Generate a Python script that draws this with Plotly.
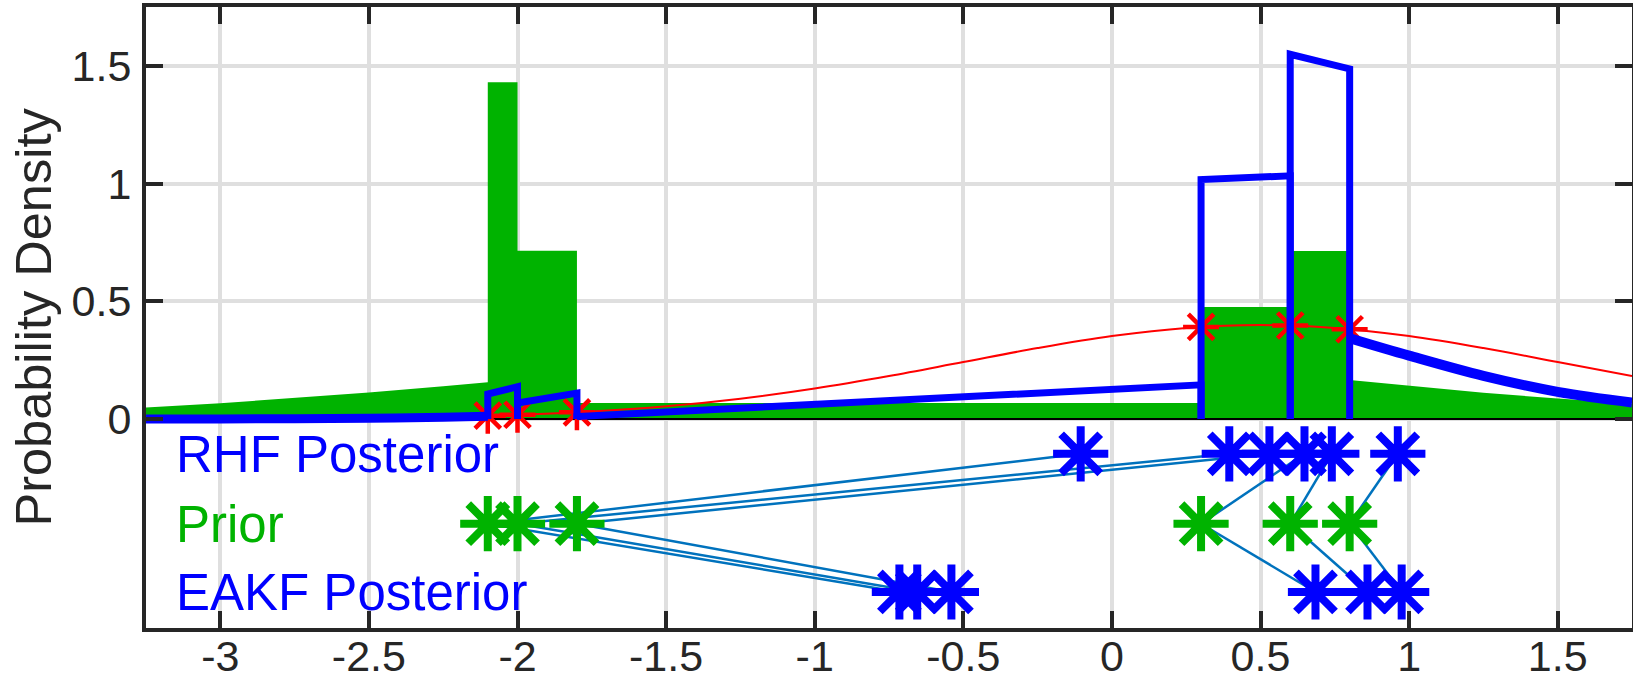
import plotly.graph_objects as go

# ---------------- data ----------------
x_ticks = [-3, -2.5, -2, -1.5, -1, -0.5, 0, 0.5, 1, 1.5]
x_tick_labels = ["-3", "-2.5", "-2", "-1.5", "-1", "-0.5", "0", "0.5", "1", "1.5"]
y_ticks = [0, 0.5, 1, 1.5]
y_tick_labels = ["0", "0.5", "1", "1.5"]

prior_members = [-2.1, -2.0, -1.8, 0.3, 0.6, 0.8]
rhf_members = [-0.105, 0.395, 0.53, 0.648, 0.74, 0.962]
eakf_members = [-0.715, -0.655, -0.54, 0.685, 0.86, 0.975]

row_labels = ["RHF Posterior", "Prior", "EAKF Posterior"]
row_levels = [-0.148, -0.445, -0.735]

# prior (rank histogram) density
prior_bin_heights = [1.43, 0.715, 0.068, 0.476, 0.714]
prior_left_tail_x = [-3.25, -3.0, -2.75, -2.5, -2.25, -2.1]
prior_left_tail_y = [0.049, 0.067, 0.088, 0.112, 0.139, 0.156]
prior_right_tail_x = [0.8, 1.0, 1.25, 1.5, 1.75]
prior_right_tail_y = [0.165, 0.14, 0.111, 0.087, 0.066]

# RHF posterior density (values at left / right end of each interior bin)
post_bin_left = [0.106, 0.068, 0.0105, 1.017, 1.549]
post_bin_right = [0.137, 0.110, 0.145, 1.033, 1.487]
post_left_tail_y = [0.0001, 0.0003, 0.001, 0.0027, 0.0069, 0.0116]
post_right_tail_y = [0.343, 0.269, 0.183, 0.115, 0.07]

# observation likelihood curve
lik_x = [-3.25, -3.0, -2.75, -2.5, -2.25, -2.0, -1.75, -1.5, -1.25, -1.0, -0.75,
         -0.5, -0.25, 0.0, 0.25, 0.5, 0.75, 1.0, 1.25, 1.5, 1.75]
lik_y = [0.0004, 0.0009, 0.0020, 0.0044, 0.0091, 0.0175, 0.0317, 0.0540, 0.0863,
         0.1295, 0.1826, 0.2420, 0.3011, 0.3521, 0.3867, 0.3989, 0.3867, 0.3521,
         0.3011, 0.2420, 0.1826]
lik_at_members = [0.014, 0.018, 0.028, 0.391, 0.397, 0.381]

x_range = [-3.25, 1.75]
y_range = [-0.888, 1.75]

# ---------------- styles ----------------
GREEN = "#00b300"
BLUE = "#0000ff"
RED = "#ff0000"
LINK = "#0072bd"
AX = "#262626"
FONT = "Liberation Sans, Arial, Helvetica, sans-serif"

fig = go.Figure()

# green prior density polygon
gx = [x_range[0]] + prior_left_tail_x
gy = [0] + prior_left_tail_y
for i in range(len(prior_bin_heights)):
    gx += [prior_members[i], prior_members[i + 1]]
    gy += [prior_bin_heights[i], prior_bin_heights[i]]
gx += prior_right_tail_x + [x_range[1]]
gy += prior_right_tail_y + [0]
fig.add_trace(go.Scatter(x=gx, y=gy, mode="lines", fill="toself", fillcolor=GREEN,
                         line=dict(width=0, color=GREEN), hoverinfo="skip"))

# zero line
fig.add_trace(go.Scatter(x=x_range, y=[0, 0], mode="lines",
                         line=dict(color="black", width=2), hoverinfo="skip"))

# likelihood curve
fig.add_trace(go.Scatter(x=lik_x, y=lik_y, mode="lines",
                         line=dict(color=RED, width=2, shape="spline"), hoverinfo="skip"))
fig.add_trace(go.Scatter(x=prior_members, y=lik_at_members, mode="markers",
                         marker=dict(symbol="asterisk", size=30, color=RED,
                                     line=dict(color=RED, width=4.5)), hoverinfo="skip"))

# RHF posterior: tails
fig.add_trace(go.Scatter(x=prior_left_tail_x, y=post_left_tail_y, mode="lines",
                         line=dict(color=BLUE, width=9, shape="spline"), hoverinfo="skip"))
fig.add_trace(go.Scatter(x=prior_right_tail_x, y=post_right_tail_y, mode="lines",
                         line=dict(color=BLUE, width=10, shape="spline"), hoverinfo="skip"))
# RHF posterior: interior bins as open boxes
bx, by = [], []
for i in range(len(post_bin_left)):
    xl, xr = prior_members[i], prior_members[i + 1]
    bx += [xl, xl, xr, xr, None]
    by += [0, post_bin_left[i], post_bin_right[i], 0, None]
fig.add_trace(go.Scatter(x=bx, y=by, mode="lines", line=dict(color=BLUE, width=7),
                         connectgaps=False, hoverinfo="skip"))

# links between prior and posterior members
lx, ly = [], []
for p, r in zip(prior_members, rhf_members):
    lx += [p, r, None]
    ly += [row_levels[1], row_levels[0], None]
for p, e in zip(prior_members, eakf_members):
    lx += [p, e, None]
    ly += [row_levels[1], row_levels[2], None]
fig.add_trace(go.Scatter(x=lx, y=ly, mode="lines", line=dict(color=LINK, width=2.5),
                         hoverinfo="skip"))

star = dict(symbol="asterisk", size=46)
for xs, lvl, col in [(prior_members, row_levels[1], GREEN),
                     (rhf_members, row_levels[0], BLUE),
                     (eakf_members, row_levels[2], BLUE)]:
    fig.add_trace(go.Scatter(x=xs, y=[lvl] * len(xs), mode="markers",
                             marker=dict(color=col, line=dict(color=col, width=8), **star),
                             hoverinfo="skip"))

# row labels
for txt, lvl, col in zip(row_labels, row_levels, [BLUE, GREEN, BLUE]):
    fig.add_annotation(x=-3.156, y=lvl, xref="x", yref="y", text=txt, showarrow=False,
                       xanchor="left", yanchor="middle", yshift=-1,
                       font=dict(family=FONT, size=51, color=col))

# y axis title
fig.add_annotation(x=-(146 - 33) / 1486, y=0.5, xref="paper", yref="paper",
                   text="Probability Density", textangle=-90, showarrow=False,
                   xanchor="center", yanchor="middle",
                   font=dict(family=FONT, size=50.5, color=AX))

axis_common = dict(showgrid=True, gridcolor="#dfdfdf", gridwidth=4, showline=True,
                   linecolor=AX, linewidth=4, mirror="ticks", ticks="inside",
                   ticklen=17, tickwidth=4, tickcolor=AX, zeroline=False,
                   automargin=False,
                   tickfont=dict(family=FONT, size=43, color=AX))
fig.update_xaxes(range=x_range, tickvals=x_ticks, ticktext=x_tick_labels,
                 ticklabelstandoff=-13, **axis_common)
fig.update_yaxes(range=y_range, tickvals=y_ticks, ticktext=y_tick_labels,
                 ticklabelstandoff=2, **axis_common)

fig.update_layout(width=1633, height=682, margin=dict(l=146, r=1, t=7, b=54),
                  plot_bgcolor="white", paper_bgcolor="white", showlegend=False,
                  font=dict(family=FONT, color=AX))

fig.write_html("out.html", config={"displayModeBar": False},
               post_script="document.body.style.margin='0';document.body.style.overflow='hidden';")
